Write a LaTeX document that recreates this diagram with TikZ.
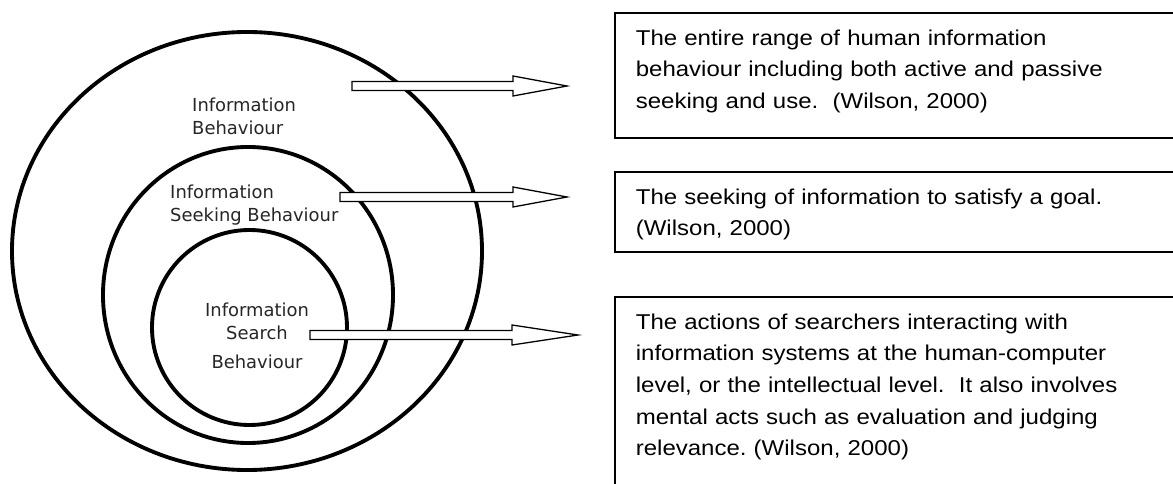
\documentclass[tikz,border=0pt]{standalone}
\usepackage{fontspec}
\setmainfont{Liberation Sans}[FakeStretch=1.12]
\newfontfamily\ringfont{DejaVu Sans}
\frenchspacing
\usepackage{tikz}
\usetikzlibrary{shapes.geometric, calc}

% hollow block arrow: tail, tip, head length
\newcommand{\hollowarrow}[3]{%
  \draw[arrowline] ($(#1)+(0,-4.5)$) -- ($(#2)+(-#3,-4.5)$) -- ($(#2)+(-#3,-10)$) -- (#2)
    -- ($(#2)+(-#3,10)$) -- ($(#2)+(-#3,4.5)$) -- ($(#1)+(0,4.5)$) -- cycle;}

\begin{document}
\begin{tikzpicture}[
    x=0.03cm, y=-0.03cm,
    ring/.style={ellipse, draw, line width=3.3pt, inner sep=0pt},
    ringlabel/.style={font=\ringfont\fontsize{15.3pt}{19.6pt}\selectfont, text=black!85, inner sep=0pt},
    textbox/.style={draw, line width=1.4pt, anchor=north west, inner xsep=0.63cm, inner ysep=0pt,
                    text width=16cm, align=left, text height=0.975cm,
                    font=\fontsize{18.3pt}{27pt}\selectfont},
    arrowline/.style={draw, fill=white, line width=1.1pt, line join=miter}
]
\useasboundingbox (0,0) rectangle (1173,484);
\clip (0,0) rectangle (1173,484);
\fill[white] (0,0) rectangle (1173,484);

% nested rings
\node[ring, minimum width=14.1cm, minimum height=13.14cm] (outer) at (247,251) {};
\node[ring, minimum width=8.7cm, minimum height=8.88cm] (middle) at (248,295) {};
\node[ring, minimum width=5.85cm, minimum height=5.85cm] (inner) at (249.5,327.5) {};

\node[ringlabel, anchor=west, align=left] (ibl) at (192,116.5) {Information\\Behaviour};
\node[ringlabel, anchor=west, align=left] (isbl) at (170,205.5) {Information\\Seeking Behaviour};
\node[ringlabel, align=center] (isrl) at (257,336) {Information\\Search\\[5pt]Behaviour};

% definitions
\node[textbox, text depth=2.775cm] (ib) at (614,12) {The entire range of human information\\behaviour including both active and passive\\seeking and use.~~(Wilson, 2000)};
\node[textbox, text depth=1.425cm] (isb) at (614,171) {The seeking of information to satisfy a goal.\\(Wilson, 2000)};
\node[textbox, text depth=6cm] (isr) at (614,296) {The actions of searchers interacting with\\information systems at the human-computer\\level, or the intellectual level.~~It also involves\\mental acts such as evaluation and judging\\relevance. (Wilson, 2000)};

% arrows
\coordinate (ib-tail) at (352,86);
\coordinate (ib-tip) at (567,86);
\coordinate (isb-tail) at (340,197);
\coordinate (isb-tip) at (567,197);
\coordinate (isr-tail) at (310,335);
\coordinate (isr-tip) at (578,335);
\hollowarrow{ib-tail}{ib-tip}{54}
\hollowarrow{isb-tail}{isb-tip}{54}
\hollowarrow{isr-tail}{isr-tip}{66}

\end{tikzpicture}
\end{document}
